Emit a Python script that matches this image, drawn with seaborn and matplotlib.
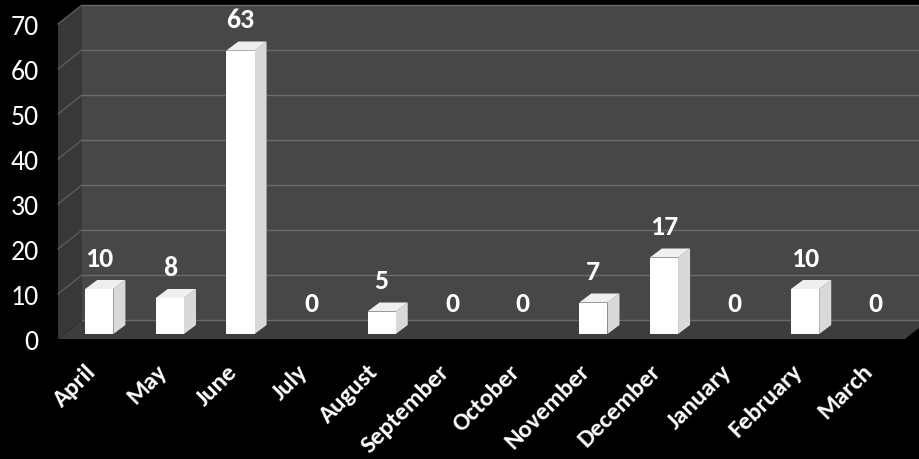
import numpy as np
import pandas as pd
import matplotlib
matplotlib.use("Agg")
import matplotlib.pyplot as plt
import seaborn as sns
from matplotlib.patches import Polygon
from matplotlib.transforms import offset_copy, ScaledTranslation

months = ["April", "May", "June", "July", "August", "September", "October",
          "November", "December", "January", "February", "March"]
counts = [10, 8, 63, 0, 5, 0, 0, 7, 17, 0, 10, 0]
y_ticks = [0, 10, 20, 30, 40, 50, 60, 70]

sns.set_theme(style="white")
plt.rcParams['font.family'] = ['Carlito', 'Lato', 'DejaVu Sans']

W, H = 920, 460
fig = plt.figure(figsize=(W / 100, H / 100), dpi=100, facecolor='black')
ax = fig.add_axes([58 / W, 120 / H, 847 / W, 315 / H])
ax.set_facecolor('none')

df = pd.DataFrame({"month": months, "count": counts})
sns.barplot(data=df, x="month", y="count", color="white", width=0.4,
            saturation=1, linewidth=0, ax=ax, zorder=5)
ax.set_xlim(-0.5, 11.5)
ax.set_ylim(0, 70)
bars = list(ax.patches)

BACK = (24, 19)     # depth of the back wall in pixels
BAR_OFF = (6, 5)    # bar plane offset
BAR_D = (12, 9)     # bar depth


def shift(pts, dx, dy):
    disp = ax.transData.transform(np.asarray(pts, dtype=float))
    disp = disp + np.array([dx, dy])
    return ax.transData.inverted().transform(disp)


x0, x1 = -0.5, 11.5
ymax = y_ticks[-1]

# back wall
back = shift([(x0, 0), (x1, 0), (x1, ymax), (x0, ymax)], *BACK)
ax.add_patch(Polygon(back, closed=True, facecolor='#474747', edgecolor='none',
                     zorder=0, clip_on=False))
# floor
floor = np.vstack([[(x0, 0), (x1, 0)], shift([(x1, 0), (x0, 0)], *BACK)])
ax.add_patch(Polygon(floor, closed=True, facecolor='#3d3d3d', edgecolor='none',
                     zorder=1, clip_on=False))
# left wall
lw_ = np.vstack([[(x0, 0), (x0, ymax)], shift([(x0, ymax), (x0, 0)], *BACK)])
ax.add_patch(Polygon(lw_, closed=True, facecolor='#383838', edgecolor='none',
                     zorder=1, clip_on=False))
# gridlines
for yv in y_ticks:
    b = shift([(x0, yv), (x1, yv)], *BACK)
    ax.plot(b[:, 0], b[:, 1], color='#6b6b6b', lw=1, zorder=2, clip_on=False)
    if yv > 0:
        d = np.vstack([[(x0, yv)], shift([(x0, yv)], *BACK)])
        ax.plot(d[:, 0], d[:, 1], color='#5c5c5c', lw=1, zorder=2, clip_on=False)

# bars with 3D faces
bar_tr = offset_copy(ax.transData, fig=fig, x=BAR_OFF[0], y=BAR_OFF[1], units='dots')
lab_tr = offset_copy(ax.transData, fig=fig, x=BAR_OFF[0], y=BAR_OFF[1] + 31, units='dots')
dx2, dy2 = BAR_OFF[0] + BAR_D[0], BAR_OFF[1] + BAR_D[1]
for p, v in zip(bars, counts):
    p.set_transform(bar_tr)
    p.set_clip_on(False)
    bx0 = p.get_x()
    bx1 = bx0 + p.get_width()
    h = p.get_height()
    cx = bx0 + p.get_width() / 2
    if h > 0:
        side = np.vstack([shift([(bx1, 0), (bx1, h)], *BAR_OFF),
                          shift([(bx1, h), (bx1, 0)], dx2, dy2)])
        ax.add_patch(Polygon(side, closed=True, facecolor='#d9d9d9',
                             edgecolor='none', zorder=4, clip_on=False))
        top = np.vstack([shift([(bx0, h), (bx1, h)], *BAR_OFF),
                         shift([(bx1, h), (bx0, h)], dx2, dy2)])
        ax.add_patch(Polygon(top, closed=True, facecolor='#efefef',
                             edgecolor='none', zorder=4, clip_on=False))
    ax.text(cx, h, f"{v}", transform=lab_tr, ha='center', va='center',
            color='white', fontsize=20, fontweight='bold', zorder=6)

ax.set_yticks(y_ticks)
ax.set_yticklabels([str(t) for t in y_ticks])
ax.tick_params(axis='y', length=0, pad=14, labelsize=20, labelcolor='white')
ax.set_xticks(range(len(months)))
ax.set_xticklabels(months, rotation=45, ha='right', rotation_mode='anchor',
                   fontweight='bold', fontsize=18, color='white')
ax.tick_params(axis='x', length=0, pad=15)
lbl_shift = ScaledTranslation(-8 / 100, 0, fig.dpi_scale_trans)
for lbl in ax.get_xticklabels():
    lbl.set_transform(lbl.get_transform() + lbl_shift)
ax.set_xlabel('')
ax.set_ylabel('')
for s in ax.spines.values():
    s.set_visible(False)

fig.savefig("out.png", dpi=100, facecolor='black')
